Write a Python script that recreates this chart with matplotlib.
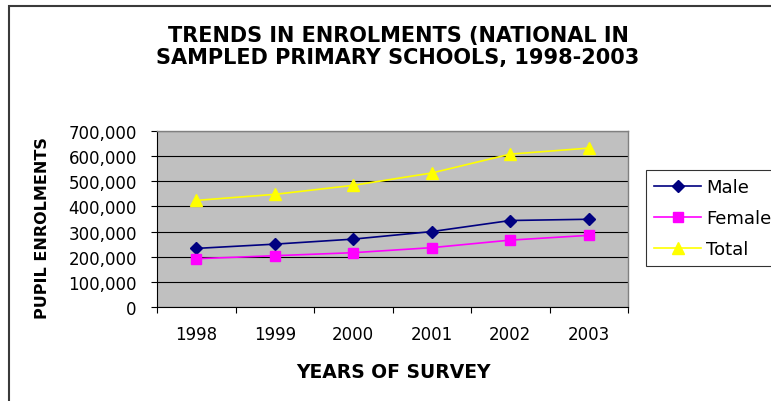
import numpy as np
import matplotlib
matplotlib.use('Agg')
import matplotlib.pyplot as plt
from matplotlib.patches import Rectangle
from matplotlib.ticker import FuncFormatter

# Data
years = ['1998', '1999', '2000', '2001', '2002', '2003']
male = [233000, 250000, 270000, 300000, 344000, 349000]
female = [192000, 204000, 216000, 236000, 266000, 285000]
total = [424000, 448000, 484000, 533000, 608000, 632000]

plt.rcParams['font.family'] = ['DejaVu Sans']

fig = plt.figure(figsize=(7.71, 4.02), dpi=100)
ax = fig.add_axes([157 / 771, 1 - 308 / 402, 471 / 771, 176 / 402])

# outer chart frame (only top and left edges visible)
frame = Rectangle((9 / 771, -0.2), 1.2, 1.2 - 7 / 402, transform=fig.transFigure,
                  fill=False, edgecolor='#3a3a3a', lw=1.5, clip_on=False)
fig.add_artist(frame)

X = np.arange(len(years))
ax.set_facecolor('#c0c0c0')
ax.plot(X, male, color='#000080', marker='D', ms=6, lw=1.2, label='Male', zorder=4)
ax.plot(X, female, color='#ff00ff', marker='s', ms=6.5, lw=1.2, label='Female', zorder=4)
ax.plot(X, total, color='#ffff00', marker='^', ms=8, lw=1.2, label='Total', zorder=4)

ax.set_xlim(-0.5, len(years) - 0.5)
ax.set_ylim(0, 700000)
ax.set_yticks(range(0, 700001, 100000))
ax.yaxis.set_major_formatter(FuncFormatter(lambda v, p: f'{int(v):,}'))
ax.grid(axis='y', color='black', lw=0.8)
ax.set_axisbelow(True)

ax.set_xticks(X)
ax.set_xticklabels(years)
ax.set_xticks(np.arange(-0.5, len(years)), minor=True)
ax.tick_params(axis='x', which='major', length=0, pad=13, labelsize=12)
ax.tick_params(axis='x', which='minor', length=4.5, width=0.8, direction='out')
ax.tick_params(axis='y', length=4.5, width=0.8, pad=10, labelsize=12)

for side in ['top', 'right']:
    ax.spines[side].set_color('#808080')
    ax.spines[side].set_linewidth(1.0)
for side in ['left', 'bottom']:
    ax.spines[side].set_color('black')
    ax.spines[side].set_linewidth(0.8)

ax.set_xlabel('YEARS OF SURVEY', fontsize=13.5, fontweight='bold', va='center')
ax.xaxis.set_label_coords(0.503, -0.364)
ax.set_ylabel('PUPIL ENROLMENTS', fontsize=11.5, fontweight='bold', va='center')
ax.yaxis.set_label_coords(-0.244, 0.4545)

fig.text(398 / 771, 1 - 47 / 402,
         'TRENDS IN ENROLMENTS (NATIONAL IN\nSAMPLED PRIMARY SCHOOLS, 1998-2003',
         ha='center', va='center', fontsize=15, fontweight='bold', linespacing=1.12)

leg = fig.legend(loc='upper left', bbox_to_anchor=(646 / 771, 1 - 171 / 402),
                 fontsize=13, frameon=True, fancybox=False, edgecolor='black',
                 handlelength=2.6, handletextpad=0.3, borderpad=0.45,
                 labelspacing=0.72, borderaxespad=0)
leg.get_frame().set_linewidth(0.8)

fig.savefig('out.png', dpi=100)
